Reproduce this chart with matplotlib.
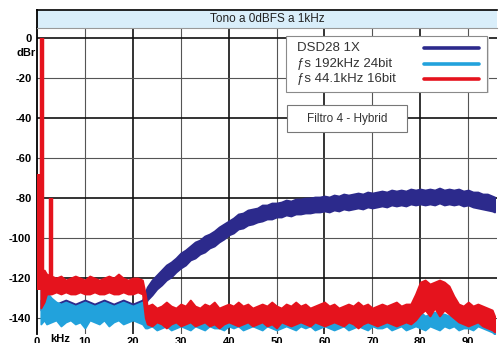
import matplotlib
matplotlib.use('Agg')
import matplotlib.pyplot as plt
from matplotlib.patches import Rectangle

plt.rcParams['font.family'] = ['Liberation Sans', 'DejaVu Sans']

# ---------------- data ----------------
title = 'Tono a 0dBFS a 1kHz'
legend_labels = ['DSD28 1X', 'ƒs 192kHz 24bit', 'ƒs 44.1kHz 16bit']
note_label = 'Filtro 4 - Hybrid'
y_ticks = [0, -20, -40, -60, -80, -100, -120, -140]
x_ticks = [0, 10, 20, 30, 40, 50, 60, 70, 80, 90]

floor_freq = [0.8, 1.5, 2, 3, 4, 5, 6, 7, 8, 9,
              10, 11, 12, 13, 14, 15, 16, 17, 18, 19,
              20, 21, 22, 22.6,
              23, 24, 25, 26, 27, 28, 29, 30, 31, 32,
              33, 34, 35, 36, 37, 38, 39, 40, 41, 42,
              43, 44, 45, 46, 47, 48, 49, 50, 51, 52,
              53, 54, 55, 56, 57, 58, 59, 60, 61, 62,
              63, 64, 65, 66, 67, 68, 69, 70, 71, 72,
              73, 74, 75, 76, 77, 78, 79, 80, 81, 82,
              83, 84, 85, 86, 87, 88, 89, 90, 91, 92,
              93, 94, 95, 95.5]

# ƒs 44.1kHz 16bit (red) noise band
red_hi = [-118, -116, -118, -119, -120, -119, -121, -120, -119, -120,
          -121, -119, -120, -121, -120, -119, -120, -118, -120, -121,
          -120, -120, -121, -128,
          -134, -133, -135, -134, -132, -134, -135, -133, -134, -131,
          -134, -135, -133, -134, -132, -135, -134, -133, -134, -132,
          -134, -133, -135, -134, -133, -134, -132, -134, -135, -133,
          -134, -132, -134, -133, -135, -134, -133, -132, -134, -133,
          -135, -134, -133, -134, -132, -134, -133, -135, -134, -133,
          -134, -133, -132, -134, -133, -133, -128, -122, -121, -123,
          -122, -121, -122, -124, -129, -133, -134, -132, -134, -133,
          -134, -135, -136, -139]
red_lo = [-135, -132, -128, -128, -127, -128, -127, -128, -128, -127,
          -128, -128, -127, -128, -128, -127, -128, -128, -127, -128,
          -128, -127, -128, -140,
          -143, -144, -142, -143, -145, -143, -142, -144, -143, -142,
          -144, -143, -142, -144, -143, -145, -143, -142, -143, -144,
          -143, -142, -144, -143, -142, -144, -143, -145, -142, -143,
          -144, -143, -142, -143, -144, -142, -143, -144, -143, -142,
          -143, -144, -142, -143, -145, -143, -142, -143, -144, -143,
          -142, -143, -144, -143, -142, -143, -141, -138, -136, -139,
          -135, -139, -136, -138, -140, -142, -143, -144, -143, -142,
          -144, -145, -146, -147]
# red harmonics / tone
spike_freq = [0.3, 1.0, 3.0]
spike_top = [-68, 0, -80]
spike_base = [-126, -126, -121]

# ƒs 192kHz 24bit (light blue) noise band
lb_hi = [-124, -125, -127, -130, -132, -133, -132, -133, -134, -133,
         -132, -133, -134, -133, -132, -133, -134, -133, -132, -133,
         -134, -133, -132, -137,
         -138, -137, -139, -138, -137, -138, -139, -137, -138, -138,
         -137, -139, -138, -137, -138, -138, -139, -137, -138, -137,
         -138, -139, -137, -138, -138, -137, -139, -138, -137, -138,
         -139, -138, -137, -138, -138, -139, -137, -138, -137, -138,
         -138, -137, -139, -138, -137, -138, -139, -138, -137, -138,
         -138, -137, -138, -139, -137, -138, -138, -137, -139, -138,
         -137, -138, -138, -139, -137, -138, -137, -138, -139, -138,
         -139, -140, -141, -143]
lb_lo = [-143, -141, -143, -142, -141, -144, -142, -141, -143, -142,
         -145, -141, -142, -143, -141, -144, -142, -141, -143, -142,
         -141, -142, -143, -145,
         -145, -144, -146, -145, -144, -146, -145, -144, -145, -146,
         -144, -145, -146, -144, -145, -145, -146, -144, -145, -144,
         -146, -145, -144, -145, -146, -144, -145, -146, -145, -144,
         -145, -146, -144, -145, -144, -146, -145, -144, -145, -146,
         -145, -144, -146, -145, -144, -145, -146, -144, -145, -145,
         -144, -146, -145, -144, -146, -145, -144, -145, -146, -144,
         -145, -146, -144, -145, -144, -146, -145, -145, -146, -144,
         -145, -146, -147, -148]

# DSD28 1X (navy) noise band
nv_hi = [-131, -131, -132, -132, -133, -132, -131, -132, -133, -132,
         -131, -132, -133, -132, -131, -132, -133, -132, -131, -132,
         -133, -132, -131, -127,
         -124.5, -121, -118.5, -116, -113.5, -112, -110, -107.5, -106, -104,
         -102, -101, -99, -98, -96.5, -94.5, -93, -91.5, -90, -88,
         -87.5, -86, -85.5, -85, -83.5, -83.5, -82.5, -82.5, -82, -81,
         -81.5, -80.5, -80.5, -80, -80, -79.5, -79.5, -79, -79.5, -78.5,
         -79, -78, -78.5, -78, -77.5, -78, -77, -77.5, -77, -76.5,
         -77, -76, -76.5, -76, -76.5, -75.5, -76, -75.5, -76, -75.5,
         -76, -75, -76, -75.5, -76, -75.5, -76.5, -76, -77, -77,
         -78, -78, -79, -79.5]
nv_lo = [-136, -136, -135, -136, -137, -136, -135, -136, -137, -136,
         -135, -136, -137, -136, -135, -136, -137, -136, -135, -136,
         -137, -136, -135, -134,
         -131, -128.5, -125.5, -123.5, -121, -119.5, -117, -115, -113.5, -111,
         -110, -108, -107, -105, -104, -102, -100.5, -98.5, -97.5, -95.5,
         -95, -93.5, -93, -92, -91.5, -90.5, -90.5, -89.5, -89.5, -88.5,
         -89, -88, -88, -87.5, -87.5, -87, -87, -86.5, -87, -86,
         -86.5, -85.5, -86, -85.5, -85, -85.5, -84.5, -85, -84.5, -84,
         -84.5, -83.5, -84, -83.5, -84, -83, -83.5, -83, -83.5, -83,
         -83.5, -82.5, -83.5, -83, -83.5, -83, -84, -83.5, -84.5, -85,
         -85.5, -86, -86.5, -87]

NAVY = '#2c2a8c'
LBLUE = '#22a2dc'
RED = '#e5131d'

# ---------------- figure ----------------
W, H = 500, 343
fig = plt.figure(figsize=(W / 100, H / 100), dpi=100)
fig.patch.set_facecolor('white')

ax = fig.add_axes([37 / W, 1 - 334 / H, 460 / W, 306 / H])
ax.set_xlim(0, 96)
ax.set_ylim(-148, 5)
ax.set_facecolor('white')

for s in ['top', 'right', 'bottom']:
    ax.spines[s].set_visible(False)
ax.spines['left'].set_color('black')
ax.spines['left'].set_linewidth(1.3)

# grid
for v in x_ticks[1:]:
    heavy = (v % 20 == 0)
    ax.axvline(v, color='#111111' if heavy else '#555555',
               lw=1.2 if heavy else 0.8, zorder=1)
for v in y_ticks:
    heavy = (v % 40 == 0)
    ax.axhline(v, color='#111111' if heavy else '#555555',
               lw=1.2 if heavy else 0.8, zorder=1)

# data
ax.fill_between(floor_freq, nv_lo, nv_hi, color=NAVY, lw=1.3, zorder=3)
ax.fill_between(floor_freq, lb_lo, lb_hi, color=LBLUE, lw=1.3, zorder=4)
ax.fill_between(floor_freq, red_lo, red_hi, color=RED, lw=1.3, zorder=5)
ax.vlines(spike_freq, spike_base, spike_top, colors=RED, lw=3.2, zorder=5)

# ticks
ax.set_yticks(y_ticks)
ax.set_yticklabels([str(v) for v in y_ticks], fontsize=8, fontweight='bold')
ax.set_xticks(x_ticks)
ax.set_xticklabels([str(v) for v in x_ticks], fontsize=8, fontweight='bold')
ax.tick_params(axis='y', length=0, pad=4)
ax.tick_params(axis='x', length=0, pad=2.5)
ax.text(4.8, -1.5 / 153 * 0 - 0.0, 'kHz', transform=ax.get_xaxis_transform(),
        ha='center', va='top', fontsize=8, fontweight='bold')
fig.text(36 / W, 1 - 53 / H, 'dBr', ha='right', va='center',
         fontsize=8, fontweight='bold')

# legend box
ax.add_patch(Rectangle((0.546, 0.787), 0.437, 0.183, transform=ax.transAxes,
                       facecolor='#dddddd', edgecolor='none', zorder=6))
ax.add_patch(Rectangle((0.541, 0.791), 0.437, 0.183, transform=ax.transAxes,
                       facecolor='white', edgecolor='#8a8a8a', lw=0.8, zorder=7))
rows_y = [0.935, 0.882, 0.833]
colors = [NAVY, LBLUE, RED]
for lab, yy, c in zip(legend_labels, rows_y, colors):
    ax.text(0.565, yy, lab, transform=ax.transAxes, ha='left', va='center',
            fontsize=9.5, color='#333333', zorder=8)
    ax.plot([0.842, 0.960], [yy, yy], transform=ax.transAxes, color=c,
            lw=2.6, solid_capstyle='round', zorder=8)

# note box
ax.add_patch(Rectangle((0.543, 0.660), 0.261, 0.088, transform=ax.transAxes,
                       facecolor='white', edgecolor='#777777', lw=0.8, zorder=7))
ax.text(0.674, 0.704, note_label, transform=ax.transAxes, ha='center',
        va='center', fontsize=8.5, color='#333333', zorder=8)

# title band
tax = fig.add_axes([37 / W, 1 - 28 / H, 460 / W, 18 / H])
tax.set_facecolor('#d9eefa')
tax.set_xticks([])
tax.set_yticks([])
tax.spines['right'].set_visible(False)
tax.spines['top'].set_color('black')
tax.spines['top'].set_linewidth(1.2)
tax.spines['left'].set_color('black')
tax.spines['left'].set_linewidth(1.3)
tax.spines['bottom'].set_color('#999999')
tax.spines['bottom'].set_linewidth(0.8)
tax.text(0.5, 0.5, title, transform=tax.transAxes, ha='center', va='center',
         fontsize=8.5, color='#222222')

fig.savefig('out.png', dpi=100, facecolor='white')
